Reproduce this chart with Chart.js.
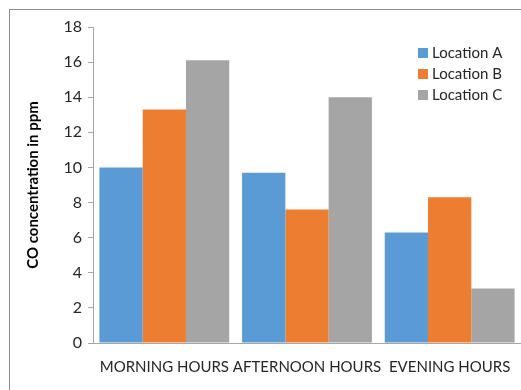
<!DOCTYPE html>
<html lang="en">
<head>
    <meta charset="UTF-8">
    <title>CO concentration</title>
    <script src="https://cdn.jsdelivr.net/npm/chart.js"></script>
    <style>
        * {
            margin: 0;
            padding: 0;
            box-sizing: border-box;
        }

        body {
            background: white;
            width: 521px;
            height: 390px;
            overflow: hidden;
        }

        .wrap {
            position: relative;
            width: 521px;
            height: 390px;
        }

        .frame {
            position: absolute;
            left: 9px;
            top: 9px;
            width: 520px;
            height: 390px;
            border-left: 1px solid #8c8c8c;
            border-top: 1px solid #8c8c8c;
            pointer-events: none;
        }
    </style>
</head>
<body>
    <div class="wrap">
        <canvas id="co-chart" width="521" height="390"></canvas>
        <div class="frame"></div>
    </div>

    <script>
        const categories = ['MORNING HOURS', 'AFTERNOON HOURS', 'EVENING HOURS'];
        const locationA = [10.0, 9.7, 6.3];
        const locationB = [13.3, 7.6, 8.3];
        const locationC = [16.1, 14.0, 3.1];
        const yTicks = [0, 2, 4, 6, 8, 10, 12, 14, 16, 18];

        const fontFamily = 'Lato, "Open Sans", sans-serif';

        // legend drawn in the top right corner, inside the plot
        const cornerLegend = {
            id: 'cornerLegend',
            afterDraw(chart) {
                const ctx = chart.ctx;
                ctx.save();
                ctx.font = '15px ' + fontFamily;
                ctx.textBaseline = 'middle';
                chart.data.datasets.forEach((ds, i) => {
                    const y = 53 + i * 21;
                    ctx.fillStyle = ds.backgroundColor;
                    ctx.fillRect(418, y - 5, 10, 10);
                    ctx.fillStyle = '#262626';
                    ctx.fillText(ds.label, 432, y);
                });
                ctx.restore();
            }
        };

        new Chart(document.getElementById('co-chart'), {
            type: 'bar',
            data: {
                labels: categories,
                datasets: [
                    { label: 'Location A', data: locationA, backgroundColor: '#5b9bd5' },
                    { label: 'Location B', data: locationB, backgroundColor: '#ed7d31' },
                    { label: 'Location C', data: locationC, backgroundColor: '#a5a5a5' }
                ]
            },
            options: {
                responsive: false,
                animation: false,
                events: [],
                categoryPercentage: 0.91,
                barPercentage: 1.0,
                layout: {
                    padding: { left: 20, top: 27, right: 0, bottom: 0 }
                },
                plugins: {
                    legend: { display: false },
                    tooltip: { enabled: false }
                },
                scales: {
                    x: {
                        // invisible tick marks push the labels down without adding side padding
                        grid: { drawOnChartArea: false, drawTicks: true, tickLength: 12, color: 'rgba(0,0,0,0)' },
                        border: { color: '#a6a6a6', width: 1 },
                        ticks: {
                            color: '#262626',
                            font: { family: fontFamily, size: 15 },
                            padding: 3,
                            maxRotation: 0,
                            autoSkip: false
                        },
                        afterFit(scale) { scale.height = 47; }
                    },
                    y: {
                        min: 0,
                        max: 18,
                        afterBuildTicks(scale) {
                            scale.ticks = yTicks.map(v => ({ value: v }));
                        },
                        grid: { drawOnChartArea: false, drawTicks: true, tickLength: 5, color: '#a6a6a6' },
                        border: { color: '#a6a6a6', width: 1 },
                        ticks: {
                            color: '#262626',
                            font: { family: fontFamily, size: 16 },
                            padding: 6
                        },
                        title: {
                            display: true,
                            text: 'CO concentration in ppm',
                            color: '#000',
                            font: { family: fontFamily, size: 15, weight: 'bold' },
                            padding: { top: 4, bottom: 8 }
                        },
                        afterFit(scale) { scale.width = 73; }
                    }
                }
            },
            plugins: [cornerLegend]
        });
    </script>
</body>
</html>
